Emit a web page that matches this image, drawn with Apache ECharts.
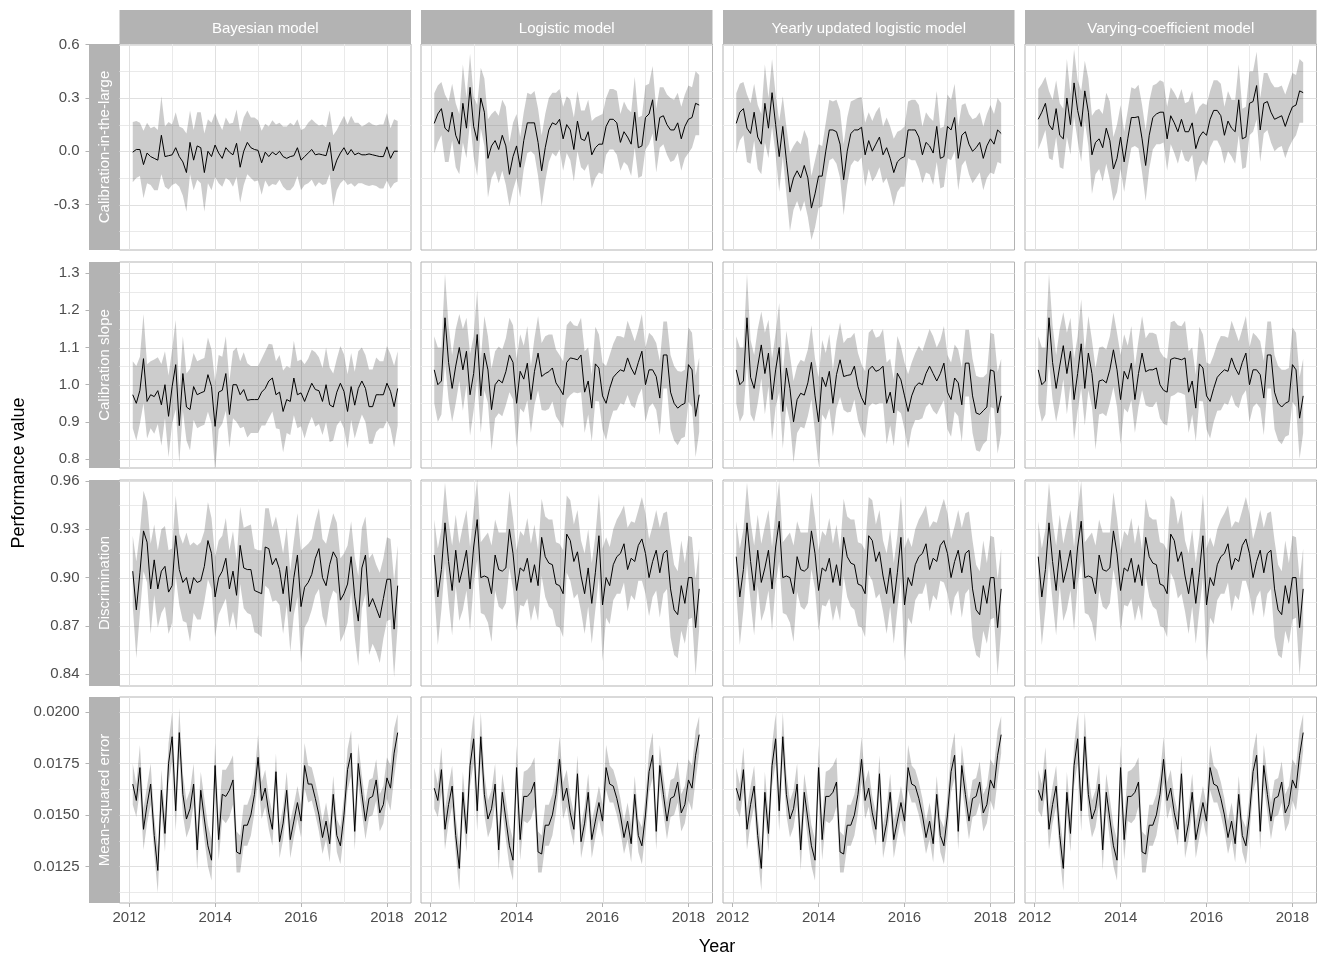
<!DOCTYPE html>
<html><head><meta charset="utf-8">
<script src="https://cdn.jsdelivr.net/npm/echarts@6/dist/echarts.min.js"></script>
<style>html,body{margin:0;padding:0;background:#fff}#c{width:1320px;height:958px}</style>
</head><body><div id="c"></div><script>
// ---------- categories / labels ----------
const models = ['Bayesian model', 'Logistic model', 'Yearly updated logistic model', 'Varying-coefficient model'];
const measures = ['Calibration-in-the-large', 'Calibration slope', 'Discrimination', 'Mean-squared error'];
const firstYear = 2012, firstMonth = 2, nMonths = 75; // Feb 2012 .. Apr 2018
const yearLabels = [2012, 2014, 2016, 2018];
const yearGrid = [2012, 2013, 2014, 2015, 2016, 2017, 2018];
const yTickLabels = [
  [-0.3, 0.0, 0.3, 0.6],
  [0.8, 0.9, 1.0, 1.1, 1.2, 1.3],
  [0.84, 0.87, 0.90, 0.93, 0.96],
  [0.0125, 0.0150, 0.0175, 0.0200]
];
const yGridLines = [
  [-0.45, -0.3, -0.15, 0, 0.15, 0.3, 0.45, 0.6],
  [0.8, 0.85, 0.9, 0.95, 1.0, 1.05, 1.1, 1.15, 1.2, 1.25, 1.3],
  [0.84, 0.855, 0.87, 0.885, 0.9, 0.915, 0.93, 0.945, 0.96],
  [0.01125, 0.0125, 0.01375, 0.015, 0.01625, 0.0175, 0.01875, 0.02]
];
const yDecimals = [1, 1, 2, 4];

// ---------- series values (monthly) ----------
const calLargeBayes = [-0.005,0.01,0.01,-0.075,-0.01,-0.03,-0.04,-0.05,0.09,-0.03,
-0.025,-0.02,0.02,-0.03,-0.06,-0.12,0.05,-0.05,0.03,0.02,
-0.12,0.0,-0.03,0.035,-0.01,-0.04,0.02,-0.005,-0.02,0.045,
-0.09,0.0,0.05,0.02,0.01,0.005,-0.065,-0.005,-0.03,-0.005,
-0.02,0.0,-0.03,-0.04,-0.03,-0.025,0.02,-0.05,-0.03,-0.01,
0.01,-0.02,-0.015,-0.02,-0.025,0.05,-0.11,-0.05,-0.01,0.02,
-0.02,0.01,-0.02,-0.01,-0.02,-0.02,-0.015,-0.02,-0.025,-0.03,
-0.03,0.025,-0.04,0.0,0.0];
const calLargeLogistic = [0.157,0.21,0.24,0.13,0.11,0.22,0.09,0.04,0.27,0.13,
0.36,0.14,0.06,0.30,0.22,-0.04,0.03,0.06,0.01,0.09,
0.03,-0.13,-0.03,0.03,-0.09,0.06,0.16,0.16,0.16,0.05,
-0.11,0.02,0.12,0.16,0.15,0.18,0.07,0.15,0.12,0.01,
0.17,0.07,0.06,0.11,-0.02,0.02,0.04,0.04,0.14,0.18,
0.18,0.16,0.05,0.11,0.08,0.04,0.22,0.02,0.03,0.19,
0.21,0.29,0.06,0.19,0.20,0.15,0.12,0.12,0.16,0.07,
0.14,0.18,0.19,0.27,0.26];
const calLargeYearly = [0.157,0.22,0.24,0.13,0.10,0.22,0.08,0.04,0.27,0.13,
0.33,0.15,-0.03,0.14,-0.05,-0.23,-0.15,-0.11,-0.15,-0.08,
-0.15,-0.32,-0.24,-0.14,-0.14,0.0,0.12,0.12,0.11,0.04,
-0.16,0.0,0.10,0.12,0.12,0.135,-0.02,0.06,0.0,0.04,
0.08,-0.02,0.02,-0.04,-0.12,-0.06,-0.04,-0.03,0.12,0.12,
0.12,0.08,-0.02,0.05,0.03,-0.01,0.14,-0.04,-0.03,0.14,
0.12,0.19,-0.04,0.09,0.11,0.04,0.0,0.02,0.05,-0.04,
0.03,0.07,0.04,0.12,0.10];
const calLargeVarying = [0.18,0.22,0.27,0.15,0.12,0.24,0.09,0.07,0.30,0.15,
0.385,0.23,0.14,0.34,0.22,-0.02,0.05,0.07,0.02,0.13,
0.06,-0.10,-0.04,0.08,-0.06,0.07,0.19,0.19,0.195,0.07,
-0.08,0.09,0.19,0.21,0.22,0.22,0.07,0.20,0.16,0.11,
0.18,0.11,0.11,0.16,0.015,0.08,0.11,0.09,0.18,0.23,
0.23,0.20,0.09,0.17,0.13,0.11,0.29,0.07,0.08,0.27,
0.28,0.37,0.12,0.27,0.28,0.22,0.18,0.19,0.20,0.14,
0.20,0.25,0.26,0.34,0.33];

const slopeBayes = [0.973,0.95,0.985,1.07,0.955,0.973,0.968,0.984,0.946,1.0,
0.915,0.995,1.054,0.89,1.03,0.94,0.933,0.995,0.973,0.978,
0.982,1.027,0.995,0.888,0.98,0.985,1.03,0.92,1.0,1.0,
0.973,0.987,0.958,0.96,0.96,0.96,0.98,0.99,1.01,1.018,
0.973,0.98,0.928,0.96,0.955,1.018,0.973,0.978,0.955,0.98,
1.004,0.987,0.984,0.955,1.0,0.946,0.94,0.98,1.004,0.982,
0.928,0.995,0.945,0.99,1.01,0.99,0.941,0.941,0.973,0.973,
0.973,1.004,0.982,0.941,0.99];
const slopeLogistic = [1.04,1.0,1.01,1.18,1.06,0.99,1.05,1.10,1.04,1.09,
0.973,1.03,1.135,0.97,1.085,1.04,0.933,1.0,1.013,1.005,
1.035,1.08,1.06,0.95,1.036,1.015,1.058,0.96,1.036,1.085,
1.022,1.03,1.035,1.045,1.005,0.99,0.973,1.06,1.072,1.07,
1.067,1.08,0.98,1.01,0.937,1.056,1.045,0.97,0.95,0.99,
1.02,1.031,1.04,1.036,1.072,1.045,1.027,1.06,1.09,1.0,
1.04,1.04,1.022,0.964,1.08,1.08,0.98,0.95,0.937,0.945,
0.95,1.054,1.04,0.915,0.973];
const slopeYearly = [1.04,1.0,1.01,1.18,1.02,0.99,1.05,1.107,1.03,1.085,
0.96,1.04,1.1,0.928,1.045,0.99,0.9,0.96,0.977,0.972,
1.005,1.06,0.97,0.9,1.02,0.995,1.036,0.95,1.027,1.067,
1.022,1.025,1.027,1.05,0.995,0.965,0.946,1.04,1.05,1.036,
1.04,1.05,0.95,0.98,0.924,1.031,1.013,0.97,0.928,0.97,
0.995,1.005,1.0,1.03,1.05,1.03,1.01,1.03,1.058,0.98,
0.96,1.018,1.005,0.946,1.058,1.058,0.97,0.924,0.92,0.93,
0.94,1.04,1.036,0.924,0.97];
const slopeVarying = [1.04,1.0,1.01,1.18,1.06,0.99,1.05,1.105,1.03,1.09,
0.96,1.03,1.11,0.99,1.085,1.03,0.935,1.01,1.013,1.005,
1.04,1.094,1.04,0.96,1.036,1.015,1.058,0.96,1.03,1.085,
1.035,1.04,1.04,1.045,1.0,0.985,0.98,1.068,1.072,1.07,
1.067,1.072,0.98,1.01,0.937,1.056,1.045,0.97,0.955,0.99,
1.02,1.031,1.04,1.036,1.072,1.045,1.027,1.06,1.085,1.0,
1.04,1.04,1.027,0.964,1.08,1.08,0.98,0.95,0.94,0.95,
0.955,1.054,1.04,0.91,0.97];

const discBayes = [0.904,0.88,0.903,0.929,0.922,0.893,0.911,0.893,0.904,0.907,
0.891,0.895,0.926,0.905,0.897,0.9,0.89,0.9,0.897,0.898,
0.907,0.923,0.915,0.888,0.9,0.904,0.912,0.893,0.904,0.889,
0.92,0.906,0.905,0.905,0.892,0.891,0.89,0.919,0.918,0.908,
0.912,0.905,0.89,0.907,0.879,0.9,0.914,0.882,0.894,0.897,
0.902,0.912,0.918,0.9,0.895,0.908,0.916,0.912,0.886,0.89,
0.896,0.913,0.888,0.873,0.906,0.914,0.882,0.887,0.881,0.875,
0.887,0.899,0.899,0.868,0.895];
const discLogistic = [0.914,0.888,0.905,0.934,0.91,0.892,0.917,0.897,0.906,0.917,
0.893,0.919,0.936,0.9,0.901,0.9,0.89,0.914,0.905,0.904,
0.906,0.93,0.915,0.892,0.906,0.904,0.912,0.897,0.908,0.895,
0.925,0.913,0.909,0.908,0.896,0.895,0.89,0.927,0.923,0.91,
0.916,0.901,0.89,0.906,0.884,0.903,0.926,0.883,0.9,0.895,
0.908,0.913,0.915,0.921,0.905,0.912,0.91,0.92,0.924,0.915,
0.9,0.91,0.917,0.903,0.915,0.917,0.893,0.88,0.877,0.895,
0.884,0.9,0.9,0.869,0.893];
const discYearly = [0.913,0.888,0.905,0.934,0.91,0.892,0.917,0.897,0.906,0.917,
0.893,0.919,0.935,0.9,0.901,0.9,0.89,0.913,0.905,0.904,
0.906,0.929,0.915,0.892,0.906,0.904,0.912,0.897,0.908,0.895,
0.925,0.913,0.909,0.908,0.896,0.895,0.89,0.926,0.923,0.91,
0.916,0.901,0.89,0.906,0.884,0.903,0.925,0.883,0.9,0.895,
0.908,0.913,0.915,0.921,0.905,0.912,0.91,0.92,0.923,0.915,
0.9,0.91,0.917,0.903,0.915,0.917,0.893,0.88,0.877,0.895,
0.884,0.9,0.9,0.869,0.893];
const discVarying = [0.913,0.888,0.905,0.934,0.91,0.892,0.917,0.897,0.906,0.917,
0.893,0.919,0.935,0.9,0.901,0.9,0.89,0.914,0.905,0.904,
0.906,0.929,0.915,0.892,0.906,0.904,0.912,0.897,0.908,0.895,
0.925,0.913,0.909,0.908,0.896,0.895,0.89,0.927,0.923,0.91,
0.916,0.901,0.89,0.906,0.884,0.903,0.926,0.883,0.9,0.895,
0.908,0.913,0.915,0.921,0.905,0.912,0.91,0.92,0.924,0.915,
0.9,0.91,0.917,0.903,0.915,0.917,0.893,0.88,0.877,0.895,
0.884,0.9,0.9,0.869,0.893];

const mseBayes = [0.0165,0.0157,0.0173,0.0143,0.0155,0.0165,0.0140,0.0123,0.0162,0.0141,
0.0175,0.0188,0.0152,0.0190,0.0160,0.0148,0.0153,0.0165,0.0133,0.0162,
0.0148,0.0135,0.0128,0.0174,0.0138,0.0160,0.0159,0.0162,0.0167,0.0132,
0.0131,0.0145,0.0145,0.0150,0.0160,0.0178,0.0157,0.0163,0.0151,0.0143,
0.0171,0.0137,0.0146,0.0162,0.0138,0.0147,0.0156,0.0147,0.0174,0.0165,
0.0165,0.0158,0.0150,0.0139,0.0147,0.0136,0.0160,0.0140,0.0135,0.0150,
0.0172,0.0180,0.0142,0.0175,0.0160,0.0147,0.0158,0.0159,0.0167,0.0151,
0.0155,0.0168,0.0163,0.0180,0.0190];
const mseLogistic = [0.0163,0.0157,0.0172,0.0143,0.0155,0.0164,0.0140,0.0124,0.0161,0.0141,
0.0174,0.0187,0.0152,0.0188,0.0160,0.0148,0.0153,0.0165,0.0133,0.0161,
0.0148,0.0135,0.0128,0.0173,0.0138,0.0159,0.0159,0.0161,0.0166,0.0132,
0.0131,0.0145,0.0145,0.0150,0.0160,0.0177,0.0157,0.0163,0.0151,0.0143,
0.0170,0.0137,0.0146,0.0161,0.0138,0.0147,0.0156,0.0147,0.0173,0.0165,
0.0164,0.0158,0.0150,0.0139,0.0147,0.0136,0.0160,0.0140,0.0135,0.0150,
0.0171,0.0179,0.0142,0.0174,0.0160,0.0147,0.0158,0.0159,0.0166,0.0151,
0.0155,0.0167,0.0163,0.0179,0.0189];
const mseYearly = [0.0163,0.0157,0.0172,0.0143,0.0155,0.0164,0.0140,0.0124,0.0161,0.0141,
0.0174,0.0187,0.0152,0.0188,0.0160,0.0148,0.0153,0.0165,0.0133,0.0161,
0.0148,0.0135,0.0128,0.0173,0.0138,0.0159,0.0159,0.0161,0.0166,0.0132,
0.0131,0.0145,0.0145,0.0150,0.0160,0.0177,0.0157,0.0163,0.0151,0.0143,
0.0170,0.0137,0.0146,0.0161,0.0138,0.0147,0.0156,0.0147,0.0173,0.0165,
0.0164,0.0158,0.0150,0.0139,0.0147,0.0136,0.0160,0.0140,0.0135,0.0150,
0.0171,0.0179,0.0142,0.0174,0.0160,0.0147,0.0158,0.0159,0.0166,0.0151,
0.0155,0.0167,0.0163,0.0179,0.0189];
const mseVarying = [0.0162,0.0157,0.0172,0.0143,0.0155,0.0164,0.0140,0.0124,0.0161,0.0141,
0.0174,0.0187,0.0152,0.0188,0.0160,0.0148,0.0153,0.0165,0.0133,0.0161,
0.0148,0.0135,0.0128,0.0173,0.0138,0.0159,0.0159,0.0161,0.0166,0.0132,
0.0131,0.0145,0.0145,0.0150,0.0160,0.0177,0.0157,0.0163,0.0151,0.0143,
0.0170,0.0137,0.0146,0.0161,0.0138,0.0147,0.0156,0.0147,0.0173,0.0165,
0.0164,0.0158,0.0150,0.0139,0.0147,0.0136,0.0160,0.0140,0.0135,0.0150,
0.0171,0.0179,0.0142,0.0174,0.0160,0.0147,0.0158,0.0159,0.0166,0.0151,
0.0155,0.0167,0.0163,0.0179,0.0190];

// half-width of the uncertainty band per month (one per measure)
const bandLarge = [0.17,0.16,0.15,0.19,0.17,0.16,0.18,0.17,0.22,0.17,
0.19,0.17,0.20,0.17,0.19,0.22,0.18,0.17,0.19,0.20,
0.22,0.18,0.19,0.18,0.17,0.16,0.17,0.16,0.18,0.19,
0.20,0.19,0.18,0.17,0.18,0.17,0.18,0.16,0.17,0.18,
0.17,0.16,0.17,0.18,0.19,0.17,0.16,0.17,0.16,0.17,
0.17,0.18,0.16,0.17,0.16,0.18,0.20,0.17,0.17,0.18,
0.17,0.19,0.18,0.17,0.16,0.17,0.18,0.17,0.17,0.18,
0.18,0.19,0.17,0.18,0.17];
const bandSlope = [0.09,0.10,0.09,0.12,0.10,0.09,0.10,0.09,0.11,0.09,
0.11,0.10,0.12,0.10,0.10,0.09,0.11,0.09,0.09,0.09,
0.09,0.10,0.10,0.12,0.10,0.09,0.10,0.09,0.09,0.10,
0.09,0.10,0.10,0.09,0.09,0.09,0.09,0.10,0.10,0.09,
0.09,0.10,0.11,0.09,0.09,0.10,0.09,0.09,0.10,0.09,
0.09,0.10,0.09,0.09,0.10,0.10,0.09,0.09,0.10,0.10,
0.10,0.09,0.09,0.10,0.09,0.09,0.10,0.10,0.10,0.09,
0.09,0.10,0.10,0.11,0.10];
const bandDisc = [0.022,0.030,0.025,0.025,0.025,0.028,0.022,0.024,0.026,0.025,
0.026,0.023,0.025,0.022,0.024,0.028,0.030,0.022,0.023,0.024,
0.022,0.024,0.022,0.025,0.023,0.022,0.025,0.024,0.025,0.022,
0.024,0.025,0.027,0.028,0.026,0.026,0.027,0.024,0.025,0.023,
0.026,0.022,0.025,0.024,0.025,0.023,0.026,0.035,0.025,0.024,
0.022,0.023,0.025,0.024,0.026,0.023,0.024,0.022,0.026,0.025,
0.024,0.022,0.025,0.028,0.025,0.024,0.030,0.028,0.027,0.028,
0.025,0.026,0.025,0.030,0.025];
const bandMse = [0.0010,0.0008,0.0011,0.0010,0.0009,0.0010,0.0009,0.0011,0.0010,0.0009,
0.0010,0.0012,0.0010,0.0012,0.0010,0.0009,0.0009,0.0010,0.0010,0.0009,
0.0010,0.0010,0.0010,0.0011,0.0010,0.0012,0.0013,0.0013,0.0012,0.0010,
0.0009,0.0010,0.0010,0.0010,0.0009,0.0011,0.0009,0.0009,0.0008,0.0008,
0.0009,0.0008,0.0008,0.0009,0.0009,0.0008,0.0008,0.0008,0.0011,0.0009,
0.0008,0.0008,0.0008,0.0008,0.0009,0.0009,0.0009,0.0008,0.0009,0.0009,
0.0010,0.0011,0.0009,0.0010,0.0009,0.0009,0.0009,0.0009,0.0010,0.0009,
0.0009,0.0010,0.0011,0.0012,0.0009];

const panelValues = [
  [calLargeBayes, calLargeLogistic, calLargeYearly, calLargeVarying],
  [slopeBayes, slopeLogistic, slopeYearly, slopeVarying],
  [discBayes, discLogistic, discYearly, discVarying],
  [mseBayes, mseLogistic, mseYearly, mseVarying]
];
const panelBands = [bandLarge, bandSlope, bandDisc, bandMse];

// ---------- layout / styling ----------
const colLeft = [119.5, 421, 723, 1025], colW = 291.5;
const rowTop = [44, 262, 480, 697], rowH = 206;
const xRange = [2011.775, 2018.56];
const yRange = [[-0.556, 0.604], [0.776, 1.33], [0.8327, 0.9606], [0.01072, 0.02073]];
const FONT = '"Liberation Sans", Arial, sans-serif';
const STRIP = '#B3B3B3';

// month positions in decimal years
const months = [];
for (let k = 0; k < nMonths; k++) {
  const m = firstMonth - 1 + k;
  months.push(firstYear + Math.floor(m / 12) + (m % 12) / 12);
}

const grids = [], xAxes = [], yAxes = [], series = [], graphics = [];
for (let r = 0; r < 4; r++) {
  for (let c = 0; c < 4; c++) {
    const g = r * 4 + c;
    grids.push({left: colLeft[c], top: rowTop[r], width: colW, height: rowH, show: true,
      borderColor: STRIP, borderWidth: 1, backgroundColor: '#fff', containLabel: false});
    xAxes.push({type: 'value', gridIndex: g, min: xRange[0], max: xRange[1],
      splitLine: {show: false}, axisLine: {show: false},
      axisTick: {show: r === 3, length: 4, lineStyle: {color: STRIP}, customValues: yearLabels},
      axisLabel: {show: r === 3, customValues: yearLabels, color: '#4D4D4D', fontSize: 15, fontFamily: FONT, margin: 7,
        formatter: v => String(Math.round(v))}});
    yAxes.push({type: 'value', gridIndex: g, min: yRange[r][0], max: yRange[r][1], offset: 30,
      splitLine: {show: false}, axisLine: {show: false},
      axisTick: {show: c === 0, length: 4, lineStyle: {color: STRIP}, customValues: yTickLabels[r]},
      axisLabel: {show: c === 0, customValues: yTickLabels[r], color: '#4D4D4D', fontSize: 15, fontFamily: FONT, margin: 10,
        formatter: v => v.toFixed(yDecimals[r])}});
    // gridlines drawn through the axis scales
    series.push({type: 'custom', xAxisIndex: g, yAxisIndex: g, z: 1, silent: true, clip: true,
      data: [[xRange[0], yRange[r][0]]],
      renderItem: (params, api) => {
        const children = [];
        const p0 = api.coord([xRange[0], yRange[r][0]]), p1 = api.coord([xRange[1], yRange[r][1]]);
        for (const v of yGridLines[r]) {
          const y = Math.round(api.coord([xRange[0], v])[1]) + 0.5;
          const major = yTickLabels[r].some(t => Math.abs(t - v) < 1e-9);
          children.push({type: 'line', shape: {x1: p0[0], y1: y, x2: p1[0], y2: y},
            style: {stroke: major ? '#E0E0E0' : '#EAEAEA', lineWidth: 1}});
        }
        for (const v of yearGrid) {
          const x = Math.round(api.coord([v, yRange[r][0]])[0]) + 0.5;
          const major = yearLabels.indexOf(v) >= 0;
          children.push({type: 'line', shape: {x1: x, y1: p0[1], x2: x, y2: p1[1]},
            style: {stroke: major ? '#E0E0E0' : '#EAEAEA', lineWidth: 1}});
        }
        return {type: 'group', children};
      }});
    // uncertainty ribbon
    const mid = panelValues[r][c], hw = panelBands[r];
    const rib = months.map((x, k) => [x, mid[k] - hw[k], mid[k] + hw[k]]);
    series.push({type: 'custom', xAxisIndex: g, yAxisIndex: g, z: 2, silent: true, clip: true,
      encode: {x: 0, y: [1, 2]}, data: rib,
      renderItem: (params, api) => {
        if (params.dataIndex !== 0) return null;
        const pts = [];
        for (const d of rib) pts.push(api.coord([d[0], d[2]]));
        for (let k = rib.length - 1; k >= 0; k--) pts.push(api.coord([rib[k][0], rib[k][1]]));
        return {type: 'polygon', shape: {points: pts}, style: {fill: 'rgba(0,0,0,0.2)'}};
      }});
    // estimate line
    series.push({type: 'line', xAxisIndex: g, yAxisIndex: g, z: 3, silent: true,
      data: months.map((x, k) => [x, mid[k]]), symbol: 'none',
      lineStyle: {color: '#000', width: 1}});
  }
}

// facet strips
for (let c = 0; c < 4; c++) {
  graphics.push({type: 'rect', shape: {x: colLeft[c], y: 10, width: colW, height: 34}, style: {fill: STRIP}, silent: true});
  graphics.push({type: 'text', x: colLeft[c] + colW / 2, y: 29, silent: true,
    style: {text: models[c], fill: '#FFFFFF', font: '15px ' + FONT, textAlign: 'center', textVerticalAlign: 'middle', align: 'center', verticalAlign: 'middle'}});
}
for (let r = 0; r < 4; r++) {
  graphics.push({type: 'rect', shape: {x: 89, y: rowTop[r], width: 30.5, height: rowH}, style: {fill: STRIP}, silent: true});
  graphics.push({type: 'text', x: 105, y: rowTop[r] + rowH / 2, rotation: Math.PI / 2, silent: true,
    style: {text: measures[r], fill: '#FFFFFF', font: '15px ' + FONT, textAlign: 'center', textVerticalAlign: 'middle', align: 'center', verticalAlign: 'middle'}});
}
// axis titles
graphics.push({type: 'text', x: 19, y: 473, rotation: Math.PI / 2, silent: true,
  style: {text: 'Performance value', fill: '#000', font: '18px ' + FONT, textAlign: 'center', textVerticalAlign: 'middle', align: 'center', verticalAlign: 'middle'}});
graphics.push({type: 'text', x: 717, y: 947, silent: true,
  style: {text: 'Year', fill: '#000', font: '18px ' + FONT, textAlign: 'center', textVerticalAlign: 'middle', align: 'center', verticalAlign: 'middle'}});

const chart = echarts.init(document.getElementById('c'), null, {renderer: 'canvas'});
chart.setOption({
  animation: false,
  backgroundColor: '#fff',
  grid: grids, xAxis: xAxes, yAxis: yAxes, series: series,
  graphic: {elements: graphics}
});
</script></body></html>
